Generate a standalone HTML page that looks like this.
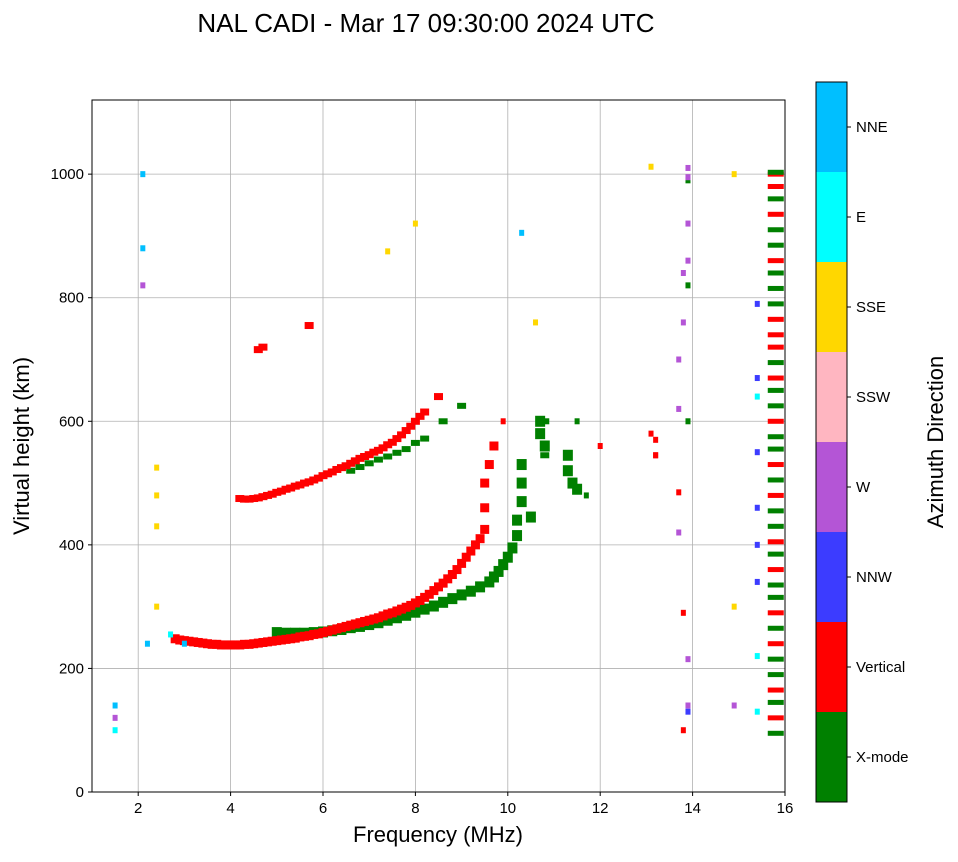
<!DOCTYPE html>
<html><head><meta charset="utf-8"><style>
body{margin:0;background:#fff;font-family:"Liberation Sans",sans-serif}
</style></head><body>
<svg id="c" width="958" height="857" xmlns="http://www.w3.org/2000/svg" font-family="Liberation Sans, sans-serif">
<text x="426" y="32" font-size="26" text-anchor="middle">NAL CADI - Mar 17 09:30:00 2024 UTC</text>
<g id="grid"></g><g id="marks"></g><g id="axes"></g><g id="cbar"></g>
<text x="438" y="842" font-size="22" text-anchor="middle">Frequency (MHz)</text>
<text transform="translate(29,446) rotate(-90)" font-size="22" text-anchor="middle">Virtual height (km)</text>
<text transform="translate(943,442) rotate(-90)" font-size="22" text-anchor="middle">Azimuth Direction</text>
</svg>
<script>
const xTicks=[2,4,6,8,10,12,14,16];
const yTicks=[0,200,400,600,800,1000];
const directions=["X-mode","Vertical","NNW","W","SSW","SSE","E","NNE"];
const dirColors=["#008000","#ff0000","#3c3cff","#b455d6","#ffb6c1","#ffd700","#00ffff","#00bfff"];
const vLowF=[2.8,2.9,3.0,3.1,3.2,3.3,3.4,3.5,3.6,3.7,3.8,3.9,4.0,4.1,4.2,4.3,4.4,4.5,4.6,4.7,4.8,4.9,5.0,5.1,5.2,5.3,5.4,5.5,5.6,5.7,5.8,5.9,6.0,6.1,6.2,6.3,6.4,6.5,6.6,6.7,6.8,6.9,7.0,7.1,7.2,7.3,7.4,7.5,7.6,7.7,7.8,7.9,8.0,8.1,8.2,8.3,8.4,8.5,8.6,8.7,8.8,8.9,9.0,9.1,9.2,9.3,9.4,9.5,9.5,9.5,9.6,9.7];
const vLowH=[248,246,245,244,243,242,241,240,239,239,238,238,238,238,238,239,239,240,241,242,243,244,245,246,247,248,249,251,252,253,255,256,258,260,262,264,266,268,270,272,274,276,278,280,282,285,288,290,293,296,299,302,306,310,315,320,326,332,338,345,352,360,370,380,390,400,410,425,460,500,530,560];
const xLowF=[5.0,5.2,5.4,5.6,5.8,6.0,6.2,6.4,6.6,6.8,7.0,7.2,7.4,7.6,7.8,8.0,8.2,8.4,8.6,8.8,9.0,9.2,9.4,9.6,9.7,9.8,9.9,10.0,10.1,10.2,10.2,10.3,10.3,10.3,10.5,10.7,10.7,10.8,11.3,11.3,11.4,11.5];
const xLowH=[258,257,257,257,258,259,261,263,266,268,271,274,278,282,286,291,296,301,307,313,319,325,332,340,348,357,368,380,395,415,440,470,500,530,445,580,600,560,545,520,500,490];
const vUpF=[4.2,4.3,4.4,4.5,4.6,4.7,4.8,4.9,5.0,5.1,5.2,5.3,5.4,5.5,5.6,5.7,5.8,5.9,6.0,6.1,6.2,6.3,6.4,6.5,6.6,6.7,6.8,6.9,7.0,7.1,7.2,7.3,7.4,7.5,7.6,7.7,7.8,7.9,8.0,8.1,8.2,8.5,4.6,4.7,5.7];
const vUpH=[475,474,474,475,476,478,480,482,485,487,490,492,495,497,500,502,505,508,512,515,518,522,525,528,532,536,540,543,546,550,553,557,562,566,572,578,585,592,600,608,615,640,716,720,755];
const xUpF=[6.6,6.8,7.0,7.2,7.4,7.6,7.8,8.0,8.2,8.6,9.0,10.8,10.8];
const xUpH=[520,526,532,538,543,549,555,565,572,600,625,600,545];
const colF=[15.8,15.8,15.8,15.8,15.8,15.8,15.8,15.8,15.8,15.8,15.8,15.8,15.8,15.8,15.8,15.8,15.8,15.8,15.8,15.8,15.8,15.8,15.8,15.8,15.8,15.8,15.8,15.8,15.8,15.8,15.8,15.8,15.8,15.8,15.8,15.8,15.8,15.8,15.8,15.8];
const colH=[95,120,145,165,190,215,240,265,290,315,335,360,385,405,430,455,480,505,530,555,575,600,625,650,670,695,720,740,765,790,815,840,860,885,910,935,960,980,1000,1003];
const colC=[0,1,0,1,0,0,1,0,1,0,0,1,0,1,0,0,1,0,1,0,0,1,0,0,1,0,1,1,1,0,0,0,1,0,0,1,0,1,1,0];
const scatF=[13.9,13.9,13.9,13.9,13.9,13.9,13.9,13.9,13.9,13.9,13.8,13.8,13.8,13.8,13.7,13.7,13.7,13.7,13.1,13.1,13.2,14.9,14.9,14.9,15.4,15.4,15.4,15.4,15.4,15.4,15.4,15.4,15.4,1.5,1.5,1.5,2.4,2.4,2.4,2.4,2.2,2.7,3.0,10.3,10.6,11.7,12.0,11.5,9.9,8.0,7.4,2.1,2.1,2.1,13.2,13.2];
const scatH=[1010,990,920,860,820,600,215,140,130,995,840,760,290,100,700,620,485,420,1012,580,545,1000,300,140,790,670,640,550,460,400,340,220,130,100,140,120,525,480,430,300,240,255,240,905,760,480,560,600,600,920,875,1000,880,820,570,545];
const scatC=[3,0,3,3,0,0,3,3,2,3,3,3,1,1,3,3,1,3,5,1,1,5,5,3,2,2,6,2,2,2,2,6,6,6,7,3,5,5,5,5,7,6,7,7,5,0,1,0,1,5,5,7,7,3,1,1];
const NS="http://www.w3.org/2000/svg";
const X0=92,X1=785,Y0=792,Y1=100;
const xs=f=>X0+(f-1)/15*(X1-X0);
const ys=h=>Y0-h/1120*(Y0-Y1);
function el(t,a,p){const e=document.createElementNS(NS,t);for(const k in a)e.setAttribute(k,a[k]);p.appendChild(e);return e;}
const G=document.getElementById('grid'),M=document.getElementById('marks'),A=document.getElementById('axes'),C=document.getElementById('cbar');
xTicks.forEach(t=>{const l=el('line',{x1:xs(t),x2:xs(t),y1:Y1,y2:Y0,stroke:'#b0b0b0','stroke-width':0.8},G);


const tx=el('text',{x:xs(t),y:Y0+21,'font-size':15,'text-anchor':'middle'},A);tx.textContent=t;


el('line',{x1:xs(t),x2:xs(t),y1:Y0,y2:Y0+4,stroke:'#000'},A);});
yTicks.forEach(t=>{const l=el('line',{x1:X0,x2:X1,y1:ys(t),y2:ys(t),stroke:'#b0b0b0','stroke-width':0.8},G);


const tx=el('text',{x:X0-8,y:ys(t)+5,'font-size':15,'text-anchor':'end'},A);tx.textContent=t;


el('line',{x1:X0-4,x2:X0,y1:ys(t),y2:ys(t),stroke:'#000'},A);});
const fr=el('rect',{x:X0,y:Y1,width:X1-X0,height:Y0-Y1,fill:'none',stroke:'#000'},A);


function mark(f,h,c,w,hh,name){const r=el('rect',{x:xs(f)-w/2,y:ys(h)-hh/2,width:w,height:hh,fill:dirColors[c]},M);

}
xLowF.forEach((f,i)=>{mark(f,xLowH[i],0,10,11,'xmode-lower-trace-mark');});
vLowF.forEach((f,i)=>{mark(f,vLowH[i],1,9,9,'vertical-lower-trace-mark');});
xUpF.forEach((f,i)=>{mark(f,xUpH[i],0,9,6,'xmode-upper-trace-mark');});
vUpF.forEach((f,i)=>{mark(f,vUpH[i],1,9,7,'vertical-upper-trace-mark');});
colF.forEach((f,i)=>{mark(f,colH[i],colC[i],16,5,'high-freq-column-mark');});
scatF.forEach((f,i)=>{mark(f,scatH[i],scatC[i],5,6,'scatter-echo-mark');});
const CB0=816,CBW=31,CBT=82,CBB=802,seg=(CBB-CBT)/directions.length;
directions.forEach((d,i)=>{const y=CBB-(i+1)*seg;
const r=el('rect',{x:CB0,y:y,width:CBW,height:seg,fill:dirColors[i]},C);


el('line',{x1:CB0+CBW,x2:CB0+CBW+4,y1:y+seg/2,y2:y+seg/2,stroke:'#000'},C);
const t=el('text',{x:CB0+CBW+9,y:y+seg/2+5,'font-size':15},C);t.textContent=d;

});
el('rect',{x:CB0,y:CBT,width:CBW,height:CBB-CBT,fill:'none',stroke:'#000'},C);
</script>
</body></html>
